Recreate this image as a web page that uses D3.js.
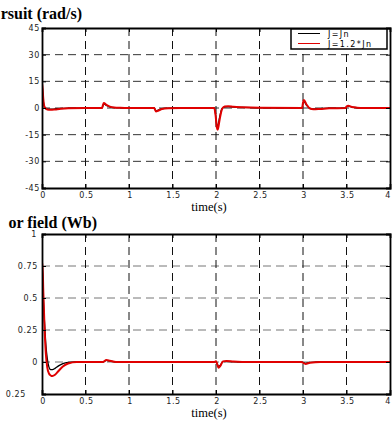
<!DOCTYPE html>
<html>
<head>
<meta charset="utf-8">
<script src="https://cdn.jsdelivr.net/npm/d3@7"></script>
<style>
body { margin: 0; background: #fff; }
svg { display: block; }
.tick-label { font-family: "DejaVu Sans", sans-serif; font-size: 8px; letter-spacing: 0.6px; fill: #222; }
.title { font-family: "Liberation Serif", serif; font-weight: bold; font-size: 16px; fill: #000; }
.xtitle { font-family: "Liberation Serif", serif; font-size: 12.5px; fill: #000; }
.legend-text { font-family: "DejaVu Sans", sans-serif; font-size: 8px; letter-spacing: 1.4px; fill: #000; }
</style>
</head>
<body>
<div id="chart"></div>
<script>
// x axis ticks (shared)
var xTicks = [0, 0.5, 1, 1.5, 2, 2.5, 3, 3.5, 4];
var xTickLabels = ["0", "0.5", "1", "1.5", "2", "2.5", "3", "3.5", "4"];

// Top panel: speed (rad/s)
var speedTicks = [-45, -30, -15, 0, 15, 30, 45];
var speedTickLabels = ["-45", "-30", "-15", "0", "15", "30", "45"];
var speedT = [0, 0.005, 0.015, 0.03, 0.06, 0.1, 0.15, 0.2, 0.3, 0.69, 0.7, 0.71, 0.74, 0.78, 0.83, 0.9, 1.0,
  1.29, 1.3, 1.31, 1.34, 1.38, 1.45, 1.6, 1.98, 1.995, 2.01, 2.02, 2.04, 2.07, 2.1, 2.14, 2.2, 2.3, 2.5,
  2.99, 3.0, 3.01, 3.04, 3.08, 3.12, 3.2, 3.3, 3.49, 3.5, 3.52, 3.56, 3.62, 3.7, 4.0];
var speedJn = [14, 11, 4, 0.3, -0.6, -0.7, -0.5, -0.3, -0.1, 0, 1.2, 2.3, 1.4, 0.6, 0.2, 0.05, 0,
  0, -0.8, -1.7, -1.1, -0.4, -0.1, 0, 0, -3.5, -9.5, -10.5, -5.5, -0.3, 0.6, 0.8, 0.5, 0.3, 0.1,
  0, 2.5, 3.8, 1.6, -0.2, -0.5, -0.3, -0.1, 0, 0.6, 1.0, 0.5, 0.15, 0, 0];
var speedJ12 = [14, 12, 5, 0.5, -0.8, -1, -0.8, -0.5, -0.1, 0, 1.5, 2.8, 1.8, 0.8, 0.3, 0.1, 0,
  0, -1, -2, -1.4, -0.6, -0.2, 0, 0, -4, -11, -12.3, -7, -0.5, 0.8, 1, 0.7, 0.4, 0.1,
  0, 3, 4.5, 2, -0.3, -0.7, -0.5, -0.2, 0, 0.8, 1.2, 0.6, 0.2, 0, 0];

// Bottom panel: field (Wb)
var fluxTicks = [-0.25, 0, 0.25, 0.5, 0.75, 1];
var fluxTickLabels = ["0.25", "0", "0.25", "0.5", "0.75", "1"];
var fluxT = [0, 0.005, 0.015, 0.03, 0.045, 0.06, 0.08, 0.1, 0.12, 0.15, 0.19, 0.24, 0.3, 0.4,
  0.7, 0.74, 0.78, 0.85, 1.0, 1.98, 2.0, 2.03, 2.05, 2.08, 2.12, 2.2, 2.4, 2.98, 3.03, 3.08, 3.2, 4.0];
var fluxJn = [0.78, 0.7, 0.5, 0.3, 0.13, 0.03, -0.04, -0.06, -0.06, -0.05, -0.03, -0.012, -0.003, 0,
  0, 0.012, 0.008, 0, 0, 0, 0.004, -0.035, -0.025, 0.003, 0.005, 0.002, 0, 0, -0.01, -0.003, 0, 0];
var fluxJ12 = [0.78, 0.78, 0.55, 0.25, 0.06, -0.04, -0.09, -0.105, -0.11, -0.1, -0.07, -0.035, -0.012, 0,
  0, 0.015, 0.01, 0, 0, 0, 0.005, -0.045, -0.03, 0.005, 0.008, 0.004, 0, 0, -0.015, -0.005, 0, 0];

var legendNames = ["J=Jn", "J=1.2*Jn"];
var seriesColors = ["#000", "#e00000"];

var width = 392, height = 421;

var svg = d3.select("#chart").append("svg")
  .attr("width", width)
  .attr("height", height);

// draws one panel
function drawPanel(opt) {
  var x = d3.scaleLinear().domain([0, 4]).range([42, 390]);
  var y = d3.scaleLinear().domain(opt.domain).range([opt.bottom, opt.top]);
  var g = svg.append("g");

  var clipId = "clip" + opt.id;
  g.append("clipPath").attr("id", clipId)
    .append("rect")
    .attr("x", x.range()[0]).attr("y", opt.top)
    .attr("width", x.range()[1] - x.range()[0])
    .attr("height", opt.bottom - opt.top);

  // grid
  g.selectAll(".hgrid").data(opt.ticks.slice(1, -1)).enter().append("line")
    .attr("x1", x(0)).attr("x2", x(4))
    .attr("y1", function (d) { return y(d); }).attr("y2", function (d) { return y(d); })
    .attr("stroke", opt.hgridColor).attr("stroke-width", 1)
    .attr("stroke-dasharray", "8,5");
  g.selectAll(".vgrid").data(xTicks.slice(1, -1)).enter().append("line")
    .attr("x1", function (d) { return x(d); }).attr("x2", function (d) { return x(d); })
    .attr("y1", opt.top).attr("y2", opt.bottom)
    .attr("stroke", "#111").attr("stroke-width", 1)
    .attr("stroke-dasharray", "8,5");

  // lines
  var line = d3.line()
    .x(function (d) { return x(d[0]); })
    .y(function (d) { return y(d[1]); })
    .curve(d3.curveMonotoneX);
  var lw = [1.3, 2];
  opt.series.forEach(function (s, i) {
    g.append("path")
      .datum(d3.zip(opt.t, s))
      .attr("clip-path", "url(#" + clipId + ")")
      .attr("fill", "none")
      .attr("stroke", seriesColors[i])
      .attr("stroke-width", lw[i])
      .attr("stroke-linejoin", "round")
      .attr("d", line);
  });

  // axes box with inward ticks
  var axL = d3.axisLeft(y).tickValues(opt.ticks).tickSize(-4).tickFormat("");
  var axR = d3.axisRight(y).tickValues(opt.ticks).tickSize(-4).tickFormat("");
  var axB = d3.axisBottom(x).tickValues(xTicks).tickSize(-4).tickFormat("");
  var axT = d3.axisTop(x).tickValues(xTicks).tickSize(-4).tickFormat("");
  [[axL, "translate(" + x(0) + ",0)"], [axR, "translate(" + x(4) + ",0)"],
   [axB, "translate(0," + opt.bottom + ")"], [axT, "translate(0," + opt.top + ")"]].forEach(function (a) {
    var ag = g.append("g").attr("transform", a[1]).call(a[0]);
    ag.select(".domain").attr("stroke", "#000").attr("stroke-width", 1.8);
    ag.selectAll(".tick line").attr("stroke", "#000");
  });

  // tick labels
  g.selectAll(".ylab").data(opt.ticks).enter().append("text")
    .attr("class", "tick-label")
    .attr("x", function (d, i) { return opt.labelX[i]; })
    .attr("y", function (d) { return y(d) + 3; })
    .attr("text-anchor", "end")
    .text(function (d, i) { return opt.tickLabels[i]; });
  g.selectAll(".xlab").data(xTicks).enter().append("text")
    .attr("class", "tick-label")
    .attr("x", function (d, i) { return i === xTicks.length - 1 ? 391 : x(d) + 1; })
    .attr("y", opt.bottom + 10)
    .attr("text-anchor", function (d, i) { return i === xTicks.length - 1 ? "end" : "middle"; })
    .text(function (d, i) { return xTickLabels[i]; });

  g.append("text").attr("class", "xtitle")
    .attr("x", 209).attr("y", opt.bottom + 23)
    .attr("text-anchor", "middle")
    .text("time(s)");

  g.append("text").attr("class", "title")
    .attr("x", opt.titleEnd).attr("y", opt.titleY)
    .attr("text-anchor", "end")
    .text(opt.title);
  return { x: x, y: y };
}

drawPanel({
  id: 1, domain: [-45, 45], top: 28, bottom: 188,
  ticks: speedTicks, tickLabels: speedTickLabels,
  labelX: [40, 40, 40, 40, 40, 40, 40],
  hgridColor: "#333",
  t: speedT, series: [speedJn, speedJ12],
  title: "rsuit (rad/s)", titleEnd: 82, titleY: 19
});

drawPanel({
  id: 2, domain: [-0.25, 1], top: 234, bottom: 394,
  ticks: fluxTicks, tickLabels: fluxTickLabels,
  labelX: [26, 38, 38, 38, 38, 37],
  hgridColor: "#777",
  t: fluxT, series: [fluxJn, fluxJ12],
  title: "or field (Wb)", titleEnd: 97, titleY: 228
});

// legend in top panel
var lg = svg.append("g").attr("transform", "translate(291,29)");
lg.append("rect").attr("width", 96).attr("height", 20)
  .attr("fill", "#fff").attr("stroke", "#000").attr("stroke-width", 1.5);
legendNames.forEach(function (n, i) {
  lg.append("line").attr("x1", 7).attr("x2", 29)
    .attr("y1", 4.5 + i * 10).attr("y2", 4.5 + i * 10)
    .attr("stroke", seriesColors[i]).attr("stroke-width", 1);
  lg.append("text").attr("class", "legend-text")
    .attr("x", 37).attr("y", 7.5 + i * 10)
    .text(n);
});
</script>
</body>
</html>
